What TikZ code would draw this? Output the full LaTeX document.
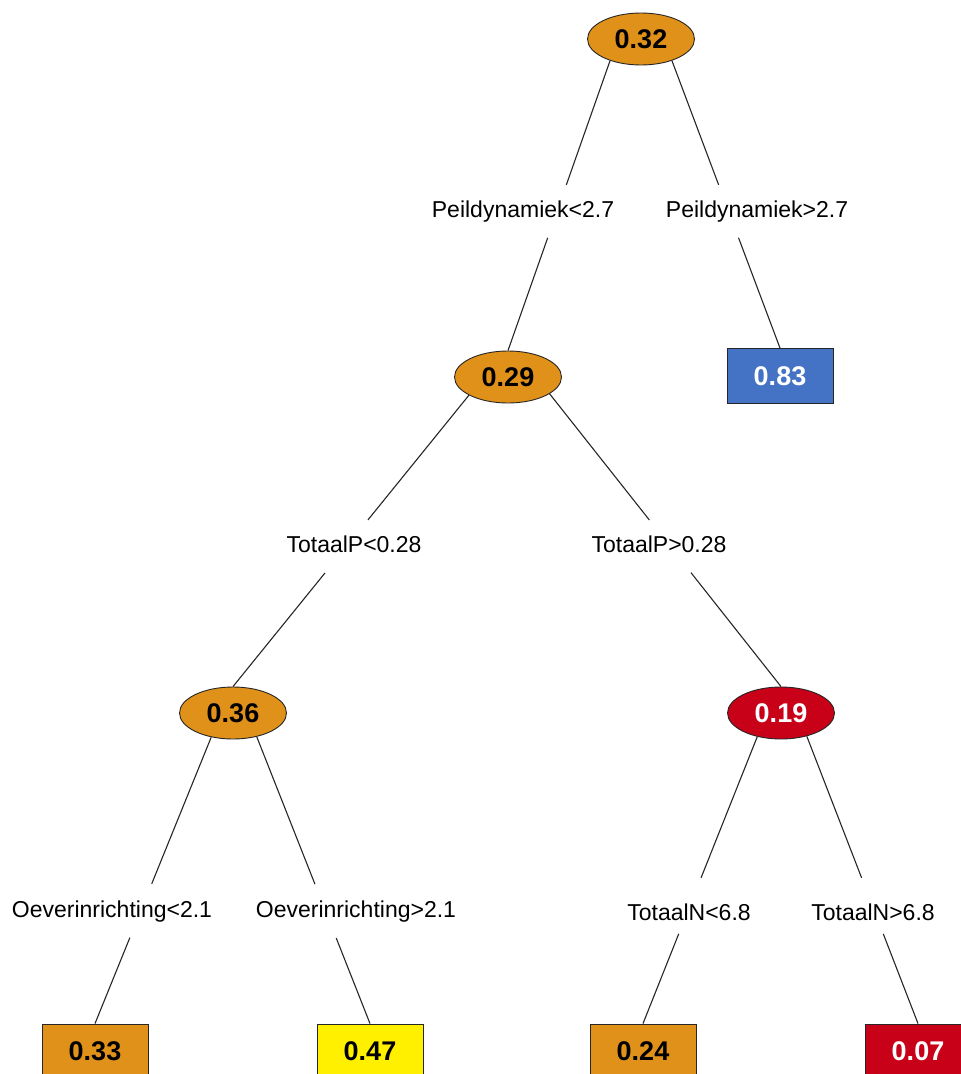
\documentclass[tikz,border=0pt]{standalone}
\usepackage{fontspec}
\setmainfont{Liberation Sans}
\usetikzlibrary{shapes.geometric,calc}
\definecolor{nodeorange}{RGB}{224,145,26}
\definecolor{nodeblue}{RGB}{68,114,196}
\definecolor{nodered}{RGB}{200,0,24}
\definecolor{nodeyellow}{RGB}{255,240,0}
\tikzset{
  ell/.style={ellipse, draw=black!85, line width=0.9pt, minimum width=107pt, minimum height=52pt, inner sep=0pt, font=\fontsize{27}{27}\selectfont\bfseries},
  leafbox/.style={rectangle, draw=black!85, line width=0.9pt, minimum width=106pt, minimum height=55pt, inner sep=0pt, font=\fontsize{27}{27}\selectfont\bfseries},
  lab/.style={inner sep=0pt, font=\fontsize{23}{23}\selectfont},
  edge/.style={line width=1.1pt, black!85}
}
\begin{document}
\begin{tikzpicture}[x=1pt,y=-1pt]
\path[use as bounding box] (0,0) rectangle (961,1074);
\clip (0,0) rectangle (961,1074);
% nodes
\node[ell, fill=nodeorange] (n1) at (641,39) {0.32};
\node[ell, fill=nodeorange] (n2) at (508,377) {0.29};
\node[leafbox, fill=nodeblue, text=white] (n3) at (780,376) {0.83};
\node[ell, fill=nodeorange] (n4) at (233,713) {0.36};
\node[ell, fill=nodered, text=white] (n5) at (781,713) {0.19};
\node[leafbox, fill=nodeorange] (b1) at (95,1051.5) {0.33};
\node[leafbox, fill=nodeyellow] (b2) at (370,1051.5) {0.47};
\node[leafbox, fill=nodeorange] (b3) at (643,1051.5) {0.24};
\node[leafbox, fill=nodered, text=white] (b4) at (918,1051.5) {0.07};
% labels
\node[lab] (lA) at (523,212) {Peildynamiek<2.7};
\node[lab] (lB) at (757,212) {Peildynamiek>2.7};
\node[lab] (lC) at (354,544) {TotaalP<0.28};
\node[lab] (lD) at (659,544) {TotaalP>0.28};
\node[lab] (lE) at (112,912) {Oeverinrichting<2.1};
\node[lab] (lF) at (356,912) {Oeverinrichting>2.1};
\node[lab] (lG) at (689,912) {TotaalN<6.8};
\node[lab] (lH) at (873,912) {TotaalN>6.8};
% edges (split around labels)
\draw[edge] (n1.215) -- ($(n1.215)!0.429!(n2.north)$);
\draw[edge] ($(n1.215)!0.611!(n2.north)$) -- (n2.north);
\draw[edge] (n1.325) -- ($(n1.325)!0.432!(n3.north)$);
\draw[edge] ($(n1.325)!0.616!(n3.north)$) -- (n3.north);
\draw[edge] (n2.205) -- ($(n2.205)!0.428!(n4.north)$);
\draw[edge] ($(n2.205)!0.610!(n4.north)$) -- (n4.north);
\draw[edge] (n2.338) -- ($(n2.338)!0.431!(n5.north)$);
\draw[edge] ($(n2.338)!0.611!(n5.north)$) -- (n5.north);
\draw[edge] (n4.228) -- ($(n4.228)!0.512!(b1.north)$);
\draw[edge] ($(n4.228)!0.700!(b1.north)$) -- (b1.north);
\draw[edge] (n4.315) -- ($(n4.315)!0.514!(b2.north)$);
\draw[edge] ($(n4.315)!0.702!(b2.north)$) -- (b2.north);
\draw[edge] (n5.225) -- ($(n5.225)!0.492!(b3.north)$);
\draw[edge] ($(n5.225)!0.687!(b3.north)$) -- (b3.north);
\draw[edge] (n5.318) -- ($(n5.318)!0.493!(b4.north)$);
\draw[edge] ($(n5.318)!0.688!(b4.north)$) -- (b4.north);
\end{tikzpicture}
\end{document}
